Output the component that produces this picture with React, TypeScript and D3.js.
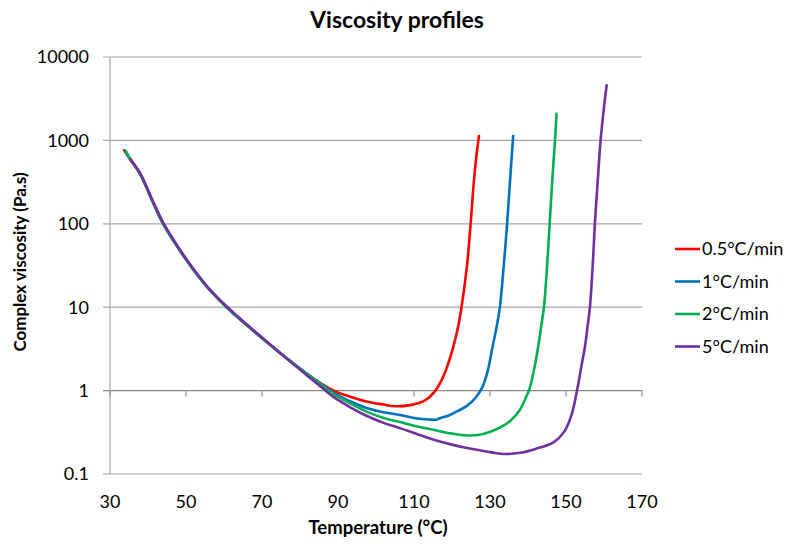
import React from "react";
import { scaleLinear, scaleLog, line, curveCatmullRom } from "d3";

// temperature (°C) / complex viscosity (Pa.s)
const red05 = [
  [33.7, 760], [35, 620], [38, 390], [41, 195], [44, 100], [48, 51], [52.4, 26.5],
  [56, 16.6], [60.7, 10], [66, 6.1], [71, 3.9], [76, 2.55], [82, 1.57], [85.5, 1.22],
  [88.8, 1.0], [93, 0.85], [97.5, 0.74], [102, 0.68], [105, 0.65], [109, 0.67],
  [113, 0.77], [115.5, 0.98], [117.5, 1.4], [119, 2.1], [120.3, 3.3], [121.5, 5.5],
  [122.5, 10], [123.9, 30], [124.9, 100], [125.7, 300], [126.5, 700], [127.1, 1130],
];
const blue1 = [
  [34, 750], [35, 630], [38, 390], [41, 195], [44, 100], [48, 51], [52.4, 26.5],
  [56, 16.6], [60.7, 10], [66, 6.1], [71, 3.9], [76, 2.55], [82, 1.57], [85.5, 1.2],
  [88.8, 0.94], [93, 0.75], [97.5, 0.62], [102, 0.55], [106.3, 0.51], [110, 0.47],
  [114, 0.45], [116, 0.45], [117, 0.47], [119, 0.5], [121.2, 0.56], [124, 0.66],
  [126.2, 0.82], [128, 1.1], [129.5, 1.8], [130.7, 3.4], [131.8, 6], [132.6, 10],
  [133.7, 35], [134.5, 100], [135.4, 400], [136.1, 1130],
];
const green2 = [
  [34.2, 740], [35, 640], [38, 390], [41, 195], [44, 100], [48, 51], [52.4, 26.5],
  [56, 16.6], [60.7, 10], [66, 6.1], [71, 3.9], [76, 2.55], [82, 1.56], [85.5, 1.18],
  [88.8, 0.91], [93, 0.71], [97.5, 0.56], [102, 0.47], [106.3, 0.42], [110, 0.38],
  [115, 0.34], [120, 0.305], [124, 0.29], [128, 0.3], [132.6, 0.36], [135.5, 0.44],
  [137.8, 0.58], [139.3, 0.8], [140.4, 1.05], [141.6, 1.8], [142.7, 3.4], [143.5, 6],
  [144.2, 10], [145, 30], [145.7, 100], [146.5, 400], [147.1, 1000], [147.5, 2080],
];
const purple5 = [
  [35.4, 590], [38, 400], [41, 200], [44, 103], [48, 52], [52.4, 27], [56, 16.8],
  [60.7, 10.2], [66, 6.2], [71, 3.95], [76, 2.52], [82, 1.5], [85.5, 1.11],
  [88.8, 0.84], [93, 0.64], [97.5, 0.5], [102, 0.41], [106.3, 0.355], [110, 0.31],
  [115, 0.26], [120, 0.225], [124, 0.205], [128, 0.19], [133.5, 0.174], [138, 0.18],
  [142, 0.2], [146.7, 0.24], [149.5, 0.32], [151.5, 0.52], [152.8, 0.95], [154, 1.9],
  [155, 3.4], [155.7, 6], [156.3, 10], [157, 30], [157.6, 100], [158.3, 300],
  [159.1, 1000], [160, 2500], [160.7, 4580],
];

const seriesNames = ["0.5°C/min", "1°C/min", "2°C/min", "5°C/min"];
const seriesColors = ["#ff0000", "#0070c0", "#00b050", "#7030a0"];
const seriesData = [red05, blue1, green2, purple5];

const xTicks = [30, 50, 70, 90, 110, 130, 150, 170];
const yTicks = [0.1, 1, 10, 100, 1000, 10000];

const W = 788;
const H = 544;
const font = "Lato, 'Open Sans', sans-serif";

export default function App() {
  const x = scaleLinear().domain([30, 170]).range([110, 642]);
  const y = scaleLog().domain([0.1, 10000]).range([474, 57]);

  const path = line<number[]>()
    .x((d) => x(d[0]))
    .y((d) => y(d[1]))
    .curve(curveCatmullRom.alpha(0.5));

  return (
    <svg
      width={W}
      height={H}
      style={{ position: "absolute", left: 0, top: 0, background: "#fff" }}
      fontFamily={font}
    >
      {/* gridlines + y ticks */}
      {yTicks.map((t) => (
        <line
          key={"g" + t}
          x1={103}
          x2={x(170)}
          y1={y(t)}
          y2={y(t)}
          stroke={t === 1 ? "#868686" : "#a6a6a6"}
          strokeWidth={1.2}
        />
      ))}
      <line x1={x(30)} x2={x(30)} y1={y(10000)} y2={y(0.1)} stroke="#a6a6a6" strokeWidth={1.2} />
      {/* x ticks hang off the axis at 1 */}
      {xTicks.map((t) => (
        <line key={"xt" + t} x1={x(t)} x2={x(t)} y1={y(1)} y2={y(1) + 6} stroke="#868686" strokeWidth={1} />
      ))}

      {yTicks.map((t) => (
        <text key={"yl" + t} x={89} y={y(t)} dy="0.35em" textAnchor="end" fontSize={18} fill="#000">
          {String(t)}
        </text>
      ))}
      {xTicks.map((t) => (
        <text key={"xl" + t} x={x(t)} y={508} textAnchor="middle" fontSize={18} fill="#000">
          {t}
        </text>
      ))}

      {seriesData.map((d, i) => (
        <path
          key={seriesNames[i]}
          d={path(d) || ""}
          fill="none"
          stroke={seriesColors[i]}
          strokeWidth={2.6}
          strokeLinejoin="round"
          strokeLinecap="round"
        />
      ))}

      {/* legend */}
      {seriesNames.map((name, i) => (
        <g key={"lg" + name} transform={`translate(675,${249 + i * 32.5})`}>
          <line x1={0} x2={25} y1={0} y2={0} stroke={seriesColors[i]} strokeWidth={2.6} />
          <text x={27} y={0} dy="0.35em" fontSize={18} fill="#000">
            {name}
          </text>
        </g>
      ))}

      <text x={397} y={28} textAnchor="middle" fontSize={23} fontWeight="bold" fill="#000">
        Viscosity profiles
      </text>
      <text x={378} y={534} textAnchor="middle" fontSize={18.5} fontWeight="bold" fill="#000">
        Temperature (°C)
      </text>
      <text
        transform="translate(26,262) rotate(-90)"
        textAnchor="middle"
        fontSize={17}
        fontWeight="bold"
        fill="#000"
      >
        Complex viscosity (Pa.s)
      </text>
    </svg>
  );
}
